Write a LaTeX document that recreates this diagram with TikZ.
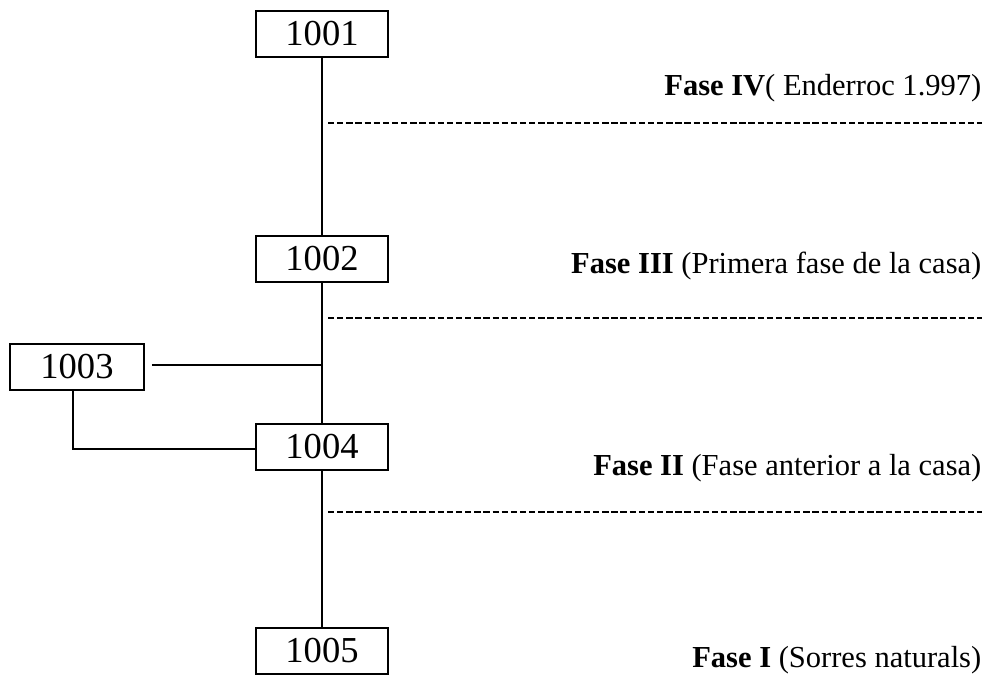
\documentclass[tikz,border=0pt]{standalone}
\usepackage{fontspec}
\setmainfont{Liberation Serif}
\begin{document}
\begin{tikzpicture}[x=0.025cm,y=-0.025cm,line width=1pt,
    ue/.style={draw,minimum width=3.3cm,minimum height=1.15cm,inner sep=0pt,font=\fontsize{26}{29}\selectfont},
    fase/.style={anchor=east,inner sep=0pt,font=\fontsize{21.7}{25}\selectfont},
    limit/.style={dash pattern=on 4.5pt off 2pt,line width=0.9pt}]
  \useasboundingbox (0,0) rectangle (1008,684);
  % unitats estratigrafiques
  \node[ue] (u1) at (322,34) {1001};
  \node[ue] (u2) at (322,259) {1002};
  \node[ue,minimum width=3.35cm] (u3) at (77,367) {1003};
  \node[ue] (u4) at (322,447) {1004};
  \node[ue] (u5) at (322,651) {1005};
  \coordinate (j) at (322,365);
  \coordinate (k) at (73,449);
  \draw (u1) -- (u2);
  \draw (u2) -- (j) -- (u4);
  \draw ([xshift=5pt]u3.east |- j) -- (j);
  \draw (u3.south -| k) -- (k) -- (u4.west |- k);
  \draw (u4) -- (u5);
  % fases
  \coordinate (d1a) at (328,123); \coordinate (d1b) at (982,123);
  \coordinate (d2a) at (328,318); \coordinate (d2b) at (982,318);
  \coordinate (d3a) at (328,512); \coordinate (d3b) at (982,512);
  \draw[limit] (d1a) -- (d1b);
  \draw[limit] (d2a) -- (d2b);
  \draw[limit] (d3a) -- (d3b);
  \node[fase] (f4) at (982,88) {\textbf{Fase IV}( Enderroc 1.997)};
  \node[fase] (f3) at (982,266) {\textbf{Fase III} (Primera fase de la casa)};
  \node[fase] (f2) at (982,468) {\textbf{Fase II} (Fase anterior a la casa)};
  \node[fase] (f1) at (982,660) {\textbf{Fase I} (Sorres naturals)};
\end{tikzpicture}
\end{document}
